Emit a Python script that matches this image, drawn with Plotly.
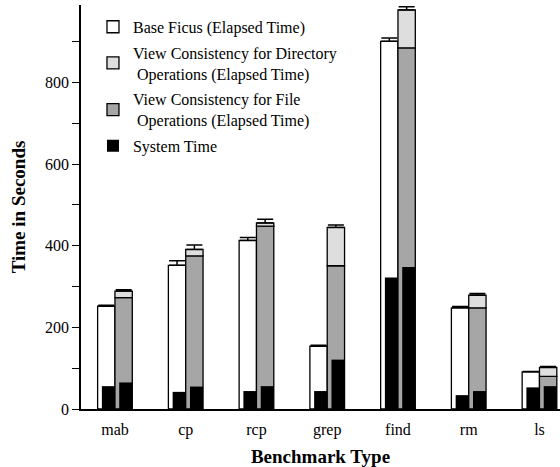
import plotly.graph_objects as go

categories = ["mab", "cp", "rcp", "grep", "find", "rm", "ls"]
base_elapsed = [252, 352, 413, 154, 901, 248, 91]
base_err = [2, 11, 7, 2, 8, 3, 1]
base_system = [56, 42, 44, 44, 322, 34, 53]
file_elapsed = [273, 375, 448, 351, 885, 248, 80]
dir_elapsed = [289, 391, 456, 445, 978, 279, 102]
view_err = [3, 11, 9, 6, 8, 4, 2]
view_system = [65, 55, 56, 121, 348, 44, 56]

font_family = "Liberation Serif"
line = dict(color="black", width=1.3)
W = 0.245
BW = 0.185

fig = go.Figure()
fig.add_trace(go.Bar(
    x=categories, y=base_elapsed, name="Base Ficus (Elapsed Time)",
    offset=-W, width=W, marker=dict(color="white", line=line),
    error_y=dict(type="data", array=base_err, symmetric=False, arrayminus=[0]*7,
                 color="black", thickness=1.5, width=8),
    legendgroup="base", legendrank=1))
fig.add_trace(go.Bar(
    x=categories, y=file_elapsed,
    name="View Consistency for File<br> Operations (Elapsed Time)",
    offset=0, width=W, marker=dict(color="#a6a6a6", line=line),
    legendgroup="file", legendrank=3))
fig.add_trace(go.Bar(
    x=categories, y=[d - f for d, f in zip(dir_elapsed, file_elapsed)],
    base=file_elapsed,
    name="View Consistency for Directory<br> Operations (Elapsed Time)",
    offset=0, width=W, marker=dict(color="#dedede", line=line),
    error_y=dict(type="data", array=view_err, symmetric=False, arrayminus=[0]*7,
                 color="black", thickness=1.5, width=8),
    legendgroup="dir", legendrank=2))
fig.add_trace(go.Bar(
    x=categories, y=base_system, name="System Time",
    offset=-BW, width=BW, marker=dict(color="black", line=dict(width=0)),
    legendgroup="sys", legendrank=4))
fig.add_trace(go.Bar(
    x=categories, y=view_system, name="System Time",
    offset=W - BW, width=BW, marker=dict(color="black", line=dict(width=0)),
    legendgroup="sys", showlegend=False))

fig.update_layout(
    barmode="overlay",
    width=560, height=467,
    margin=dict(l=81, r=0, t=5, b=58),
    paper_bgcolor="white", plot_bgcolor="white",
    font=dict(family=font_family, size=16, color="black"),
    legend=dict(x=0.025, y=0.988, xanchor="left", yanchor="top",
                bgcolor="rgba(0,0,0,0)", font=dict(size=16),
                tracegroupgap=2, itemwidth=30, groupclick="toggleitem"),
    xaxis=dict(range=[-0.48, 6.29], showline=True, linecolor="black", linewidth=1.5,
               ticks="", showgrid=False, zeroline=False, automargin=False,
               tickfont=dict(size=16), ticklabelstandoff=5,
               title=dict(text="<b>Benchmark Type</b>", font=dict(size=19), standoff=16)),
    yaxis=dict(range=[0, 990], showline=True, linecolor="black", linewidth=1.5,
               ticks="outside", ticklen=7, tickwidth=1.2, tickcolor="black",
               tickvals=[0, 200, 400, 600, 800], showgrid=False, zeroline=False,
               automargin=False, tickfont=dict(size=16),
               minor=dict(tickvals=[100, 300, 500, 700, 900], ticks="outside",
                          ticklen=7, tickwidth=1.2, tickcolor="black"),
               title=dict(text="<b>Time in Seconds</b>", font=dict(size=19), standoff=14)),
)

fig.write_html("out.html", config={"displayModeBar": False},
               post_script="document.body.style.margin='0';document.body.style.padding='0';")
